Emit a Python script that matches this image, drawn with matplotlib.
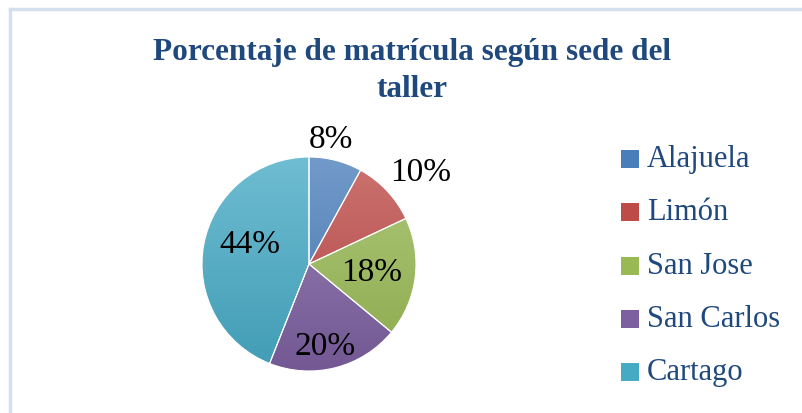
import numpy as np
import matplotlib
matplotlib.use("Agg")
import matplotlib.pyplot as plt
from matplotlib.colors import to_rgb
from matplotlib.lines import Line2D
from matplotlib.patches import Rectangle

categories = ["Alajuela", "Limón", "San Jose", "San Carlos", "Cartago"]
values = [8, 10, 18, 20, 44]
labels = ["8%", "10%", "18%", "20%", "44%"]
colors = ["#4A7EBB", "#BE4B48", "#98B954", "#7D60A0", "#46AAC5"]
title = "Porcentaje de matrícula según sede del\ntaller"

W, H = 802, 414
fig = plt.figure(figsize=(W / 100, H / 100), dpi=100)
fig.patch.set_facecolor("white")

# chart frame (left and top lines visible)
fig.add_artist(Line2D([9.5 / W, 9.5 / W], [0, 1 - 9.5 / H], color="#D5E0EE", lw=2.5, transform=fig.transFigure))
fig.add_artist(Line2D([9.5 / W, 1], [1 - 9.5 / H, 1 - 9.5 / H], color="#D5E0EE", lw=2.5, transform=fig.transFigure))

# pie axes: center (309, 265), radius 107 px
cx, cy, r = 309, 265, 107
size = 2 * r * 1.0
ax = fig.add_axes([(cx - r) / W, 1 - (cy + r) / H, size / W, size / H])
wedges, _ = ax.pie(values, colors=colors, startangle=90, counterclock=False,
                   wedgeprops=dict(edgecolor="white", linewidth=0.8))
ax.set_xlim(-1, 1)
ax.set_ylim(-1, 1)
ax.set_aspect("equal")

# gradient fill for each wedge (lighter top, darker bottom)
grad = np.linspace(1, 0, 256).reshape(-1, 1)
for w, c in zip(wedges, colors):
    base = np.array(to_rgb(c))
    light = base + (1 - base) * 0.22
    dark = base * 0.92
    img = light[None, None, :] * grad[:, :, None] + dark[None, None, :] * (1 - grad[:, :, None])
    img = np.repeat(img, 2, axis=1)
    im = ax.imshow(img, extent=[-1, 1, -1, 1], origin="upper", zorder=w.get_zorder() + 0.1, aspect="auto")
    im.set_clip_path(w)
    w.set_zorder(w.get_zorder() + 0.2)
    w.set_facecolor("none")

# labels positions in pixels
label_pos = [(331, 140), (421, 173), (372, 273), (325, 347), (250, 245)]
for lab, (px, py) in zip(labels, label_pos):
    fig.text(px / W, 1 - py / H, lab, ha="center", va="center", fontsize=24,
             family="Liberation Serif", color="black")

fig.text(412 / W, 1 - 71 / H, title, ha="center", va="center", fontsize=22.5,
         fontweight="bold", family="Liberation Serif", color="#1F497D",
         linespacing=1.4)

# legend
leg_y = [160, 213, 267, 320, 373]
for cat, c, ly in zip(categories, colors, leg_y):
    fig.add_artist(Rectangle((621 / W, 1 - (ly + 9) / H), 18 / W, 18 / H,
                             facecolor=c, edgecolor="none", transform=fig.transFigure))
    fig.text(647 / W, 1 - ly / H, cat, ha="left", va="center", fontsize=22,
             family="Liberation Serif", color="#1F497D")

fig.savefig("out.png", dpi=100, facecolor="white")
